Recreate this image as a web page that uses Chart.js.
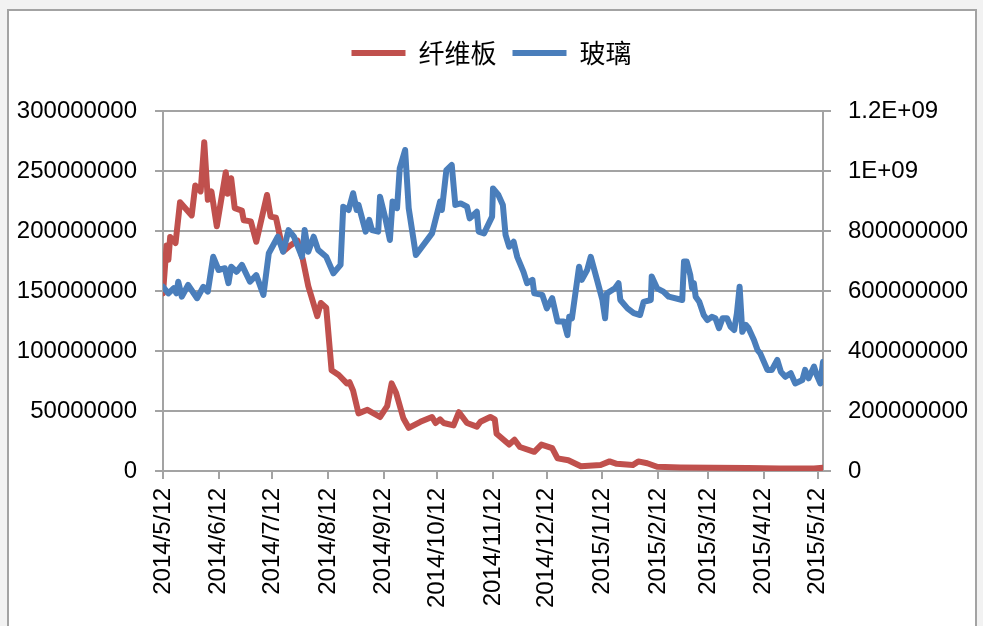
<!DOCTYPE html>
<html>
<head>
<meta charset="utf-8">
<script src="https://cdn.jsdelivr.net/npm/chart.js@4/dist/chart.umd.min.js"></script>
<style>
  html,body{margin:0;padding:0;background:#f2f2f2;width:983px;height:626px;overflow:hidden}
  #frame{position:absolute;left:7px;top:9px;width:966px;height:640px;background:#fff;border:2px solid #a3a3a3}
  #chart{position:absolute;left:0;top:0}
</style>
</head>
<body>
<div id="frame"></div>
<canvas id="chart" width="983" height="626"></canvas>
<script>
// days counted from 2014/5/12
const tickDays = [0,31,61,92,123,153,184,214,245,276,304,335,365];
const tickLabels = ['2014/5/12','2014/6/12','2014/7/12','2014/8/12','2014/9/12','2014/10/12','2014/11/12','2014/12/12','2015/1/12','2015/2/12','2015/3/12','2015/4/12','2015/5/12'];

// 纤维板, millions (left axis)
const fiberDays = [0,2,3,4,7,9.5,16,18,21,23,25,27,30,35,36,38,40,44,45,49,52,58,60,63,67,71,75,78,81,86,88,91,94,98,102.5,104,106,109,114,121,125,127.5,130,134,137,143.5,150,152,154.5,156.5,162,165,167,169.5,175,177,182.5,185,186,193,196,199,207,211,217,220,226,233,244,249,253,262,265,270,275.5,288.5,307,326,344,363,368];
const fiberValues = [148,188,176,195,190,224,213,238,233,274,226,233,204,249,231,244,219,217,209,208,191,230,212,211,183,188,192,176,154,129,140,136,84,80,73,74,67,48,51,45,54,73,65,44,36,41,45,40,43,40,38,49,45,40,37,41,45,43,31,22,26,20,16,22,19,10.5,9,4,5,8,6,5,8,6.5,3.5,3,2.7,2.5,2,2,2.7];

// 玻璃, millions (right axis)
const glassDays = [0,3,6,7.5,8.5,10.5,14,19,22.5,25,28,31,34.5,36.5,38,41,44,48.5,52,56,59,64,67,70,73,77.5,79,81,84,86.5,91,95,99,100.5,103.5,106,108,109,113,115,116.5,120,121,124,126.5,128,130.5,132,135,137,141,150,154.5,155.5,158,161,163,166,169.5,171,175,176,179,183.5,184,187,189.5,191,193,195.5,197.5,201,203,206,207,211.5,214,217,220,223.5,225.5,226.5,228,232,233.5,236.5,238.5,242,245,246.5,247.5,252,254,255,259,262.5,266,268,272,272.5,275.5,279,282,289.5,290.5,292,294,295,296,297,299,301.5,303.5,306,308,310,312,314.5,316.5,318.5,320,321.5,323,325,326.5,329.5,331.5,333,337,339.5,342.5,344.5,347,350,352.5,356.5,358,360,363,364.5,366.5,368];
const glassValues = [614,592,609,592,631,581,620,576,614,598,714,670,676,626,681,664,687,631,653,587,726,781,731,803,781,714,803,731,781,737,714,659,687,881,870,926,870,887,798,837,803,798,914,842,770,898,876,1009,1070,876,720,792,898,870,1003,1020,887,892,881,842,864,798,792,848,942,920,887,787,748,764,714,664,626,637,592,587,542,576,498,498,453,514,509,681,637,670,714,637,570,509,592,609,626,570,542,526,520,564,570,648,609,598,581,570,698,698,653,609,626,581,564,520,503,514,509,476,509,509,481,470,526,614,464,487,476,437,403,392,337,337,370,331,314,326,292,303,337,309,348,320,292,364];

const gridColor = '#a3a3a3';
const tickFont = {family:'Liberation Sans', size:24};

// keep legend box tall so the plot starts at the right height
const legendHeight = {
  id:'legendHeight',
  afterInit(chart){
    const lg = chart.legend;
    const fit = lg.fit.bind(lg);
    lg.fit = function(){ fit(); this.height = 87; };
  }
};

new Chart(document.getElementById('chart'), {
  type:'line',
  data:{
    datasets:[
      {label:'纤维板', data:fiberDays.map((d,i)=>({x:d, y:fiberValues[i]*1e6})), yAxisID:'y',
       borderColor:'#c0504d', backgroundColor:'#c0504d', borderWidth:6, pointRadius:0, tension:0, borderJoinStyle:'round', borderCapStyle:'round', order:2},
      {label:'玻璃', data:glassDays.map((d,i)=>({x:d, y:glassValues[i]*1e6})), yAxisID:'y2',
       borderColor:'#4a7ebb', backgroundColor:'#4a7ebb', borderWidth:6, pointRadius:0, tension:0, borderJoinStyle:'round', borderCapStyle:'round', order:1}
    ]
  },
  plugins:[legendHeight],
  options:{
    responsive:false,
    animation:false,
    layout:{padding:{top:24,left:0,right:0,bottom:0}},
    plugins:{
      tooltip:{enabled:false},
      legend:{
        position:'top',
        labels:{
          font:{family:'Noto Sans CJK SC', size:26},
          color:'#000',
          boxWidth:54, boxHeight:6, padding:16,
          sort:(a,b)=>a.datasetIndex-b.datasetIndex,
          generateLabels:c=>Chart.defaults.plugins.legend.labels.generateLabels(c).map(l=>({...l, lineWidth:0}))
        }
      }
    },
    scales:{
      x:{
        type:'linear', min:0, max:368,
        afterBuildTicks:s=>{ s.ticks = tickDays.map(v=>({value:v})); },
        afterFit:s=>{ s.height = 155; },
        ticks:{minRotation:90, maxRotation:90, padding:9, color:'#000', font:tickFont,
               callback:(v,i)=>tickLabels[i]},
        grid:{drawOnChartArea:false, tickLength:8, color:gridColor, lineWidth:2},
        border:{color:gridColor, width:2}
      },
      y:{
        position:'left', min:0, max:300e6,
        afterFit:s=>{ s.width = 163; },
        ticks:{stepSize:50e6, padding:18, color:'#000', font:tickFont, callback:v=>String(v)},
        grid:{color:gridColor, lineWidth:2, tickLength:8},
        border:{color:gridColor, width:2}
      },
      y2:{
        position:'right', min:0, max:1.2e9,
        afterFit:s=>{ s.width = 160; },
        ticks:{stepSize:2e8, padding:17, color:'#000', font:tickFont,
               callback:v=>v>=1e9 ? (v/1e9)+'E+09' : String(v)},
        grid:{drawOnChartArea:false, tickLength:8, color:gridColor, lineWidth:2},
        border:{color:gridColor, width:2}
      }
    }
  }
});
</script>
</body>
</html>
